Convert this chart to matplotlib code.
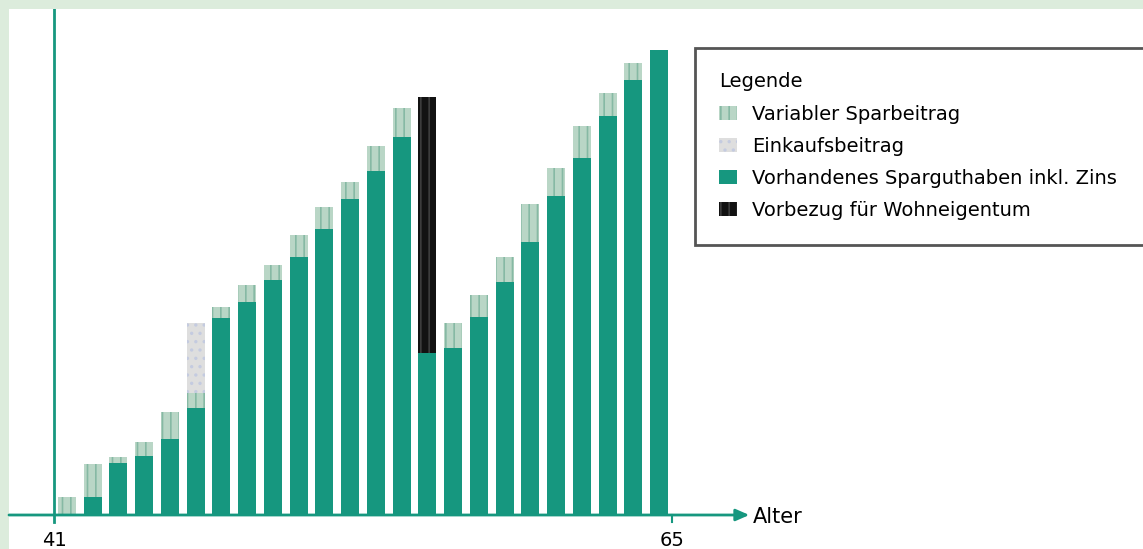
import numpy as np
import matplotlib.pyplot as plt
from matplotlib.patches import Rectangle

# values (arbitrary units, no y scale shown)
ages = list(range(41, 65))
sparguthaben = [0, 18, 52, 59, 76, 107, 197, 213, 235, 258, 286, 316, 344, 378,
                162, 167, 198, 233, 273, 319, 357, 399, 435, 465]
variabel = [18, 33, 6, 14, 27, 15, 11, 17, 15, 22, 22, 17, 25, 29,
            0, 25, 22, 25, 38, 28, 32, 23, 17, 0]
einkauf = [0, 0, 0, 0, 0, 70, 0, 0, 0, 0, 0, 0, 0, 0,
           0, 0, 0, 0, 0, 0, 0, 0, 0, 0]
vorbezug = [0, 0, 0, 0, 0, 0, 0, 0, 0, 0, 0, 0, 0, 0,
            256, 0, 0, 0, 0, 0, 0, 0, 0, 0]
labels = ["Variabler Sparbeitrag", "Einkaufsbeitrag",
          "Vorhandenes Sparguthaben inkl. Zins", "Vorbezug für Wohneigentum"]

teal = "#16977f"
W, H = 1143, 549

fig = plt.figure(figsize=(W / 100, H / 100), dpi=100, facecolor="#dcecdc")
fig.add_artist(Rectangle((9 / W, 0), 1, 1 - 9 / H, transform=fig.transFigure,
                         facecolor="white", edgecolor="none", zorder=0))
ax = fig.add_axes([9 / W, 0, 1 - 9 / W, 1 - 9 / H])
ax.set_facecolor("none")
ax.axis("off")
ax.set_xlim(39.25, 83.29)
ax.set_ylim(-34, 506)

x = np.array(ages) + 0.5
spar = np.array(sparguthaben)
var = np.array(variabel)
plt.rcParams["hatch.linewidth"] = 1.2

b_spar = ax.bar(x, spar, width=0.7, color=teal, lw=0, zorder=3)
b_var = ax.bar(x, var, bottom=spar, width=0.7, facecolor="#b9d6c6",
               edgecolor="#86b9a4", hatch="||", lw=0, zorder=3)
b_ein = ax.bar(x, einkauf, bottom=spar + var, width=0.7, facecolor="#dedede",
               edgecolor="#c4cbe0", hatch="..", lw=0, zorder=3)
b_vor = ax.bar(x, vorbezug, bottom=spar, width=0.7, facecolor="#121212",
               edgecolor="#3c3c3c", hatch="||", lw=0, zorder=3)

# axes drawn by hand: vertical line at 41, arrow to "Alter"
ax.plot([41, 41], [-7, 506], color=teal, lw=2, zorder=4)
ax.annotate("", xy=(68.0, 0), xytext=(39.25, 0),
            arrowprops=dict(arrowstyle="-|>,head_length=0.8,head_width=0.35",
                            color=teal, lw=2, shrinkA=0, shrinkB=0), zorder=4)
ax.plot([65, 65], [0, -7], color=teal, lw=1.5, zorder=4)
ax.text(68.15, -2, "Alter", fontsize=15, va="center", ha="left")
ax.text(41, -16, "41", fontsize=14, va="top", ha="center")
ax.text(65, -16, "65", fontsize=14, va="top", ha="center")

# legend box runs past the right edge as in the original
leg = ax.legend([b_var, b_ein, b_spar, b_vor], labels, loc="upper left",
                bbox_to_anchor=(695 / W, 1 - 240 / H, 470 / W, 192 / H),
                bbox_transform=fig.transFigure, mode="expand",
                title="Legende", alignment="left", fontsize=14, title_fontsize=14,
                fancybox=False, edgecolor="#555555", framealpha=1,
                borderpad=1.25, handlelength=0.93, handleheight=0.72,
                handletextpad=0.75, labelspacing=0.68, borderaxespad=0)
leg.get_frame().set_linewidth(2)

fig.savefig("out.png", dpi=100, facecolor=fig.get_facecolor())
